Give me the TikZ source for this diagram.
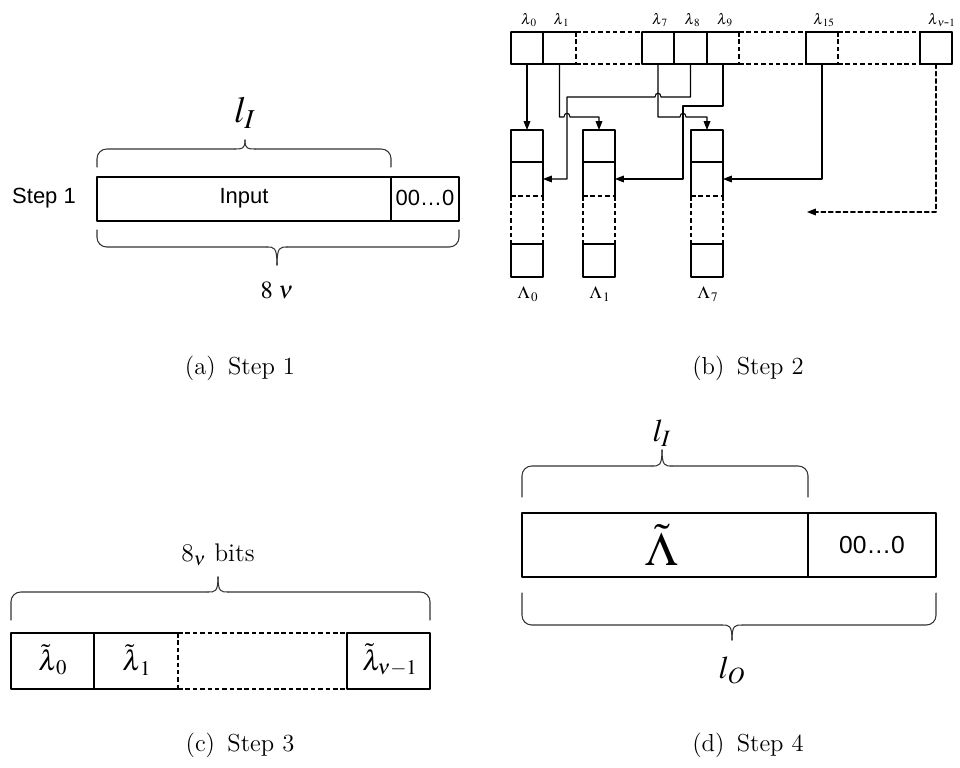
\documentclass[tikz,border=0pt]{standalone}
\usepackage{mathptmx}
\usepackage{fontspec}
\renewcommand{\rmdefault}{lmr}
\newfontfamily\labelsans{Liberation Sans}
\usetikzlibrary{arrows.meta}

% Flat brace: #1,#2 leg x, #3 leg end y, #4 bar y, #5 tip y, #6 tip x.
\newcommand{\spanbrace}[6]{%
  \draw[brace,rounded corners=5.5pt] (#1,#3) -- (#1,#4) -- (#6-10,#4);
  \draw[brace,rounded corners=5.5pt] (#2,#3) -- (#2,#4) -- (#6+10,#4);
  \draw[brace] (#6-10,#4) .. controls (#6-3,#4) and (#6,#4) .. (#6,#5);
  \draw[brace] (#6+10,#4) .. controls (#6+3,#4) and (#6,#4) .. (#6,#5);
}

\begin{document}
\begin{tikzpicture}[
  x={(0.2mm,0mm)},
  y={(0mm,-0.2mm)},
  line join=round,
  line cap=round,
  inner sep=1pt,
  cell/.style={draw=black,line width=0.6pt},
  gap/.style={draw=black,line width=0.6pt,line cap=butt,dash pattern=on 2.6pt off 1.6pt},
  link/.style={draw=black,line width=0.6pt,-{Triangle[length=5pt,width=3.8pt]}},
  brace/.style={draw=black!80,line width=0.6pt},
  sanslabel/.style={font=\labelsans\fontsize{12.5}{14}\selectfont},
  lamlabel/.style={font=\fontsize{8.5}{10}\selectfont},
  caption/.style={font=\fontsize{14}{17}\selectfont}
]
  \useasboundingbox (0,0) rectangle (960,767);

  % Step 1: input padded with zeros up to 8 nu.
  \node[sanslabel] (steplbl) at (44,198) {Step 1};
  \draw[cell] (97,177) rectangle (459,221);
  \draw[cell] (391,177) -- (391,221);
  \node[sanslabel] (input) at (244,198) {Input};
  \node[sanslabel] (padA) at (425,198) {00…0};
  \spanbrace{97}{391}{167}{149}{140}{245}
  \node[font=\fontsize{21}{24}\selectfont] (lenA) at (245,113) {$l_I$};
  \spanbrace{97}{459}{230}{247}{265}{277}
  \node[font=\fontsize{14}{16}\selectfont] (bytesA) at (277,290) {$8\;\nu$};
  \node[caption] (capA) at (240,368) {(a)\enspace Step 1};

  % Step 2: source row of bytes.
  \foreach \a/\b in {511/576,642/739,806/838,920/952} {
    \draw[cell] (\a,32) -- (\b,32) (\a,64) -- (\b,64);
  }
  \foreach \a/\b in {576/642,739/806,838/920} {
    \draw[gap] (\a,32) -- (\b,32) (\a,64) -- (\b,64);
  }
  \foreach \x in {511,543,642,674,707,806,920,952} {
    \draw[cell] (\x,32) -- (\x,64);
  }
  \foreach \x in {576,739,838} {
    \draw[gap] (\x,32) -- (\x,64);
  }
  \foreach \x/\s in {527/0,559.5/1,658/7,690.5/8,723/9,822/15} {
    \node[lamlabel] (lam\s) at (\x+2,20) {$\lambda_{\,\s}$};
    \coordinate (src\s) at (\x,64);
  }
  \node[lamlabel] (lamnu) at (942,20) {$\lambda_{\,\nu\mbox{-}1}$};
  \coordinate (srcnu) at (936,64);

  % Step 2: target columns.
  \foreach \x/\s in {511/0,583/1,691/7} {
    \draw[cell] (\x,196) -- (\x,130) -- (\x+32,130) -- (\x+32,196)
      (\x,162) -- (\x+32,162)
      (\x,244) -- (\x,277) -- (\x+32,277) -- (\x+32,244) -- cycle;
    \draw[gap] (\x,196) -- (\x,244) (\x+32,196) -- (\x+32,244) (\x,196) -- (\x+32,196);
    \node[font=\fontsize{10}{12}\selectfont] (Lam\s) at (\x+17,294) {$\Lambda_{\,\s}$};
    \coordinate (in\s) at (\x+16,130);
    \coordinate (side\s) at (\x+32,179);
  }
  \coordinate (more) at (807,212);

  % Step 2: byte routing, with hops where lines cross.
  \draw[link] (src0) -- (in0);
  \draw[link] (src1) -- (559.5,117) -- (564,117) .. controls (564,112) and (570,112) .. (570,117)
    -- (599,117) -- (in1);
  \draw[link] (src7) -- (658,117) -- (680,117) .. controls (680,112) and (686,112) .. (686,117)
    -- (707,117) -- (in7);
  \draw[link] (src8) -- (690.5,97) -- (661,97) .. controls (661,92) and (655,92) .. (655,97)
    -- (567,97) |- (side0);
  \draw[link] (src9) -- (723,106) -- (683,106) |- (side1);
  \draw[link] (src15) |- (side7);
  \draw[link,dash pattern=on 2.6pt off 1.6pt] (srcnu) |- (more);
  \node[caption] (capB) at (748,368) {(b)\enspace Step 2};

  % Step 3: concatenated columns.
  \draw[cell] (178,633) -- (11,633) -- (11,689) -- (178,689);
  \draw[cell] (347,633) -- (430,633) -- (430,689) -- (347,689) -- cycle;
  \draw[cell] (94,633) -- (94,689);
  \draw[gap] (178,633) -- (347,633) (178,689) -- (347,689) (178,633) -- (178,689);
  \node[font=\fontsize{16}{18}\selectfont] (tl0) at (53,660) {$\tilde{\lambda}_{\,0}$};
  \node[font=\fontsize{16}{18}\selectfont] (tl1) at (137,660) {$\tilde{\lambda}_{\,1}$};
  \node[font=\fontsize{16}{18}\selectfont] (tlnu) at (390,660) {$\tilde{\lambda}_{\nu-1}$};
  \spanbrace{11}{430}{620}{592}{577}{218}
  \node[font=\fontsize{14.5}{17}\selectfont] (bitsC) at (218,555) {8$_{\nu}$ bits};
  \node[caption] (capC) at (240,745) {(c)\enspace Step 3};

  % Step 4: output block.
  \draw[cell] (522,513) rectangle (936,577);
  \draw[cell] (808,513) -- (808,577);
  \node[font=\fontsize{27}{30}\selectfont] (bigLam) at (662,545) {$\tilde{\Lambda}$};
  \node[font=\labelsans\fontsize{14}{16}\selectfont] (padD) at (872,545) {00…0};
  \spanbrace{522}{808}{497}{466}{450}{662}
  \node[font=\fontsize{18}{21}\selectfont] (lenD) at (662,433) {$l_I$};
  \spanbrace{522}{936}{593}{625}{640}{732}
  \node[font=\fontsize{18}{21}\selectfont] (lenO) at (732,670) {$l_O$};
  \node[caption] (capD) at (748,745) {(d)\enspace Step 4};
\end{tikzpicture}
\end{document}
